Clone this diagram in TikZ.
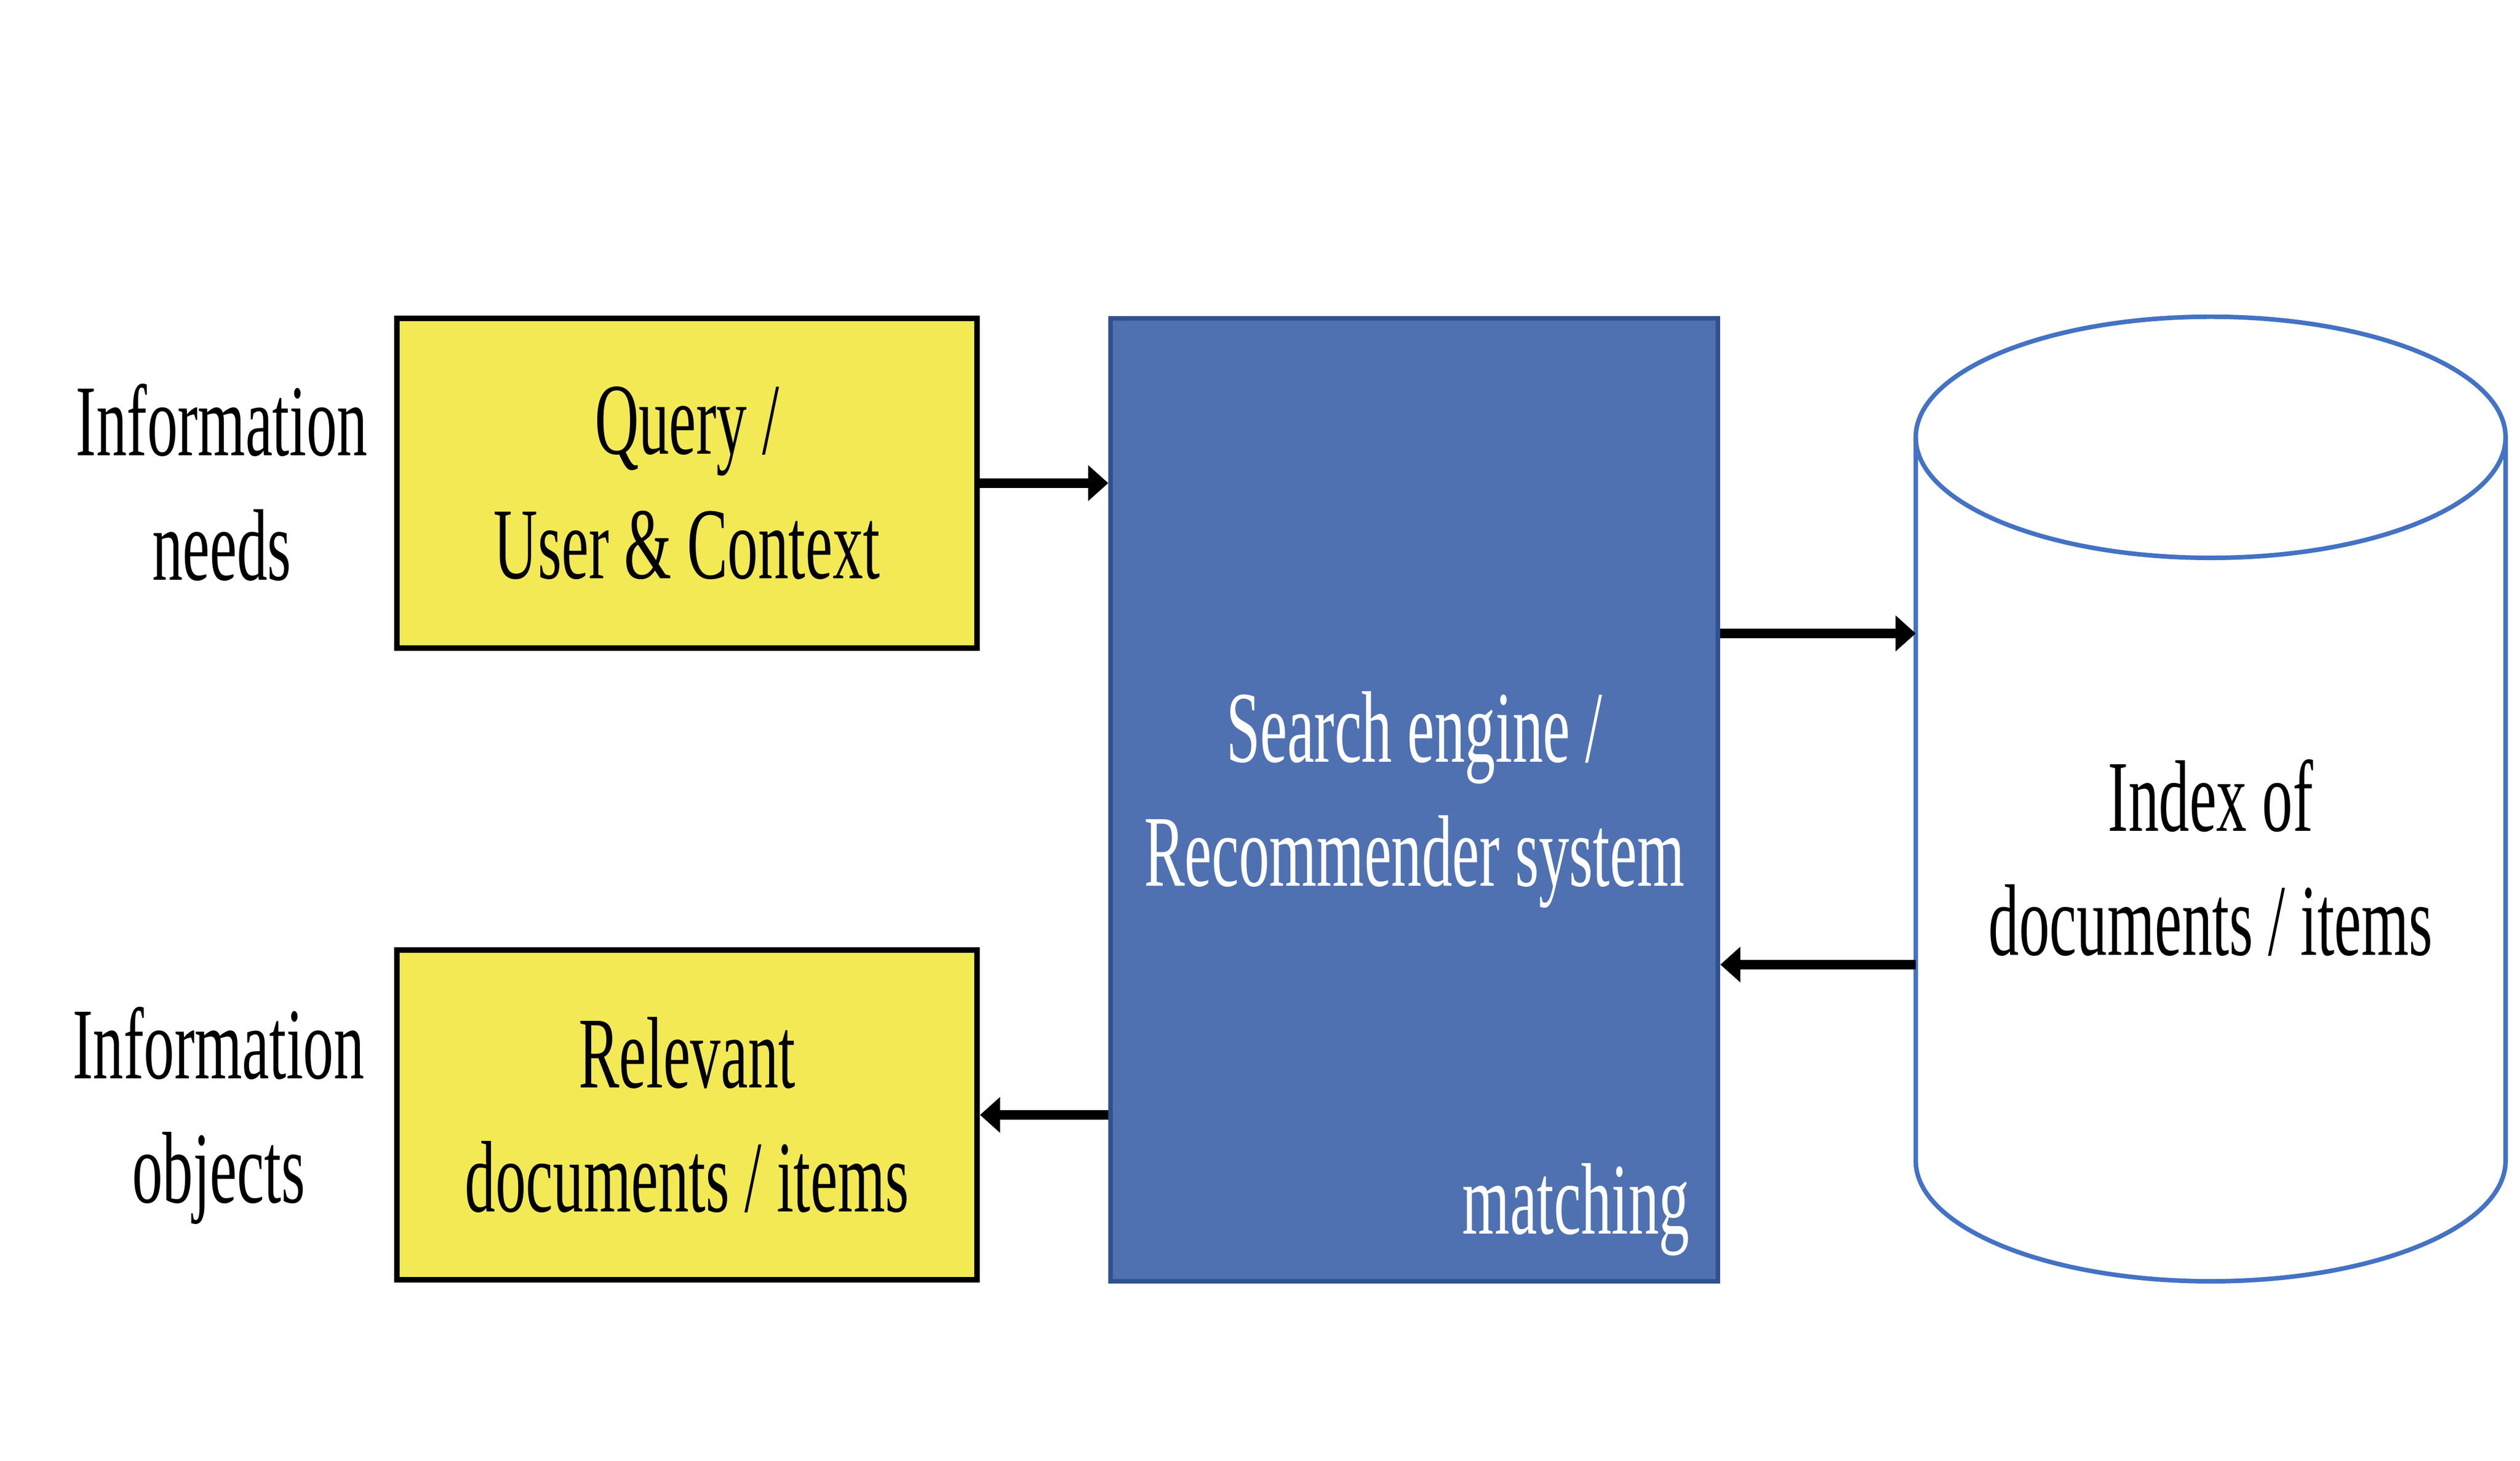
\documentclass[tikz,border=0pt]{standalone}
\usepackage{fontspec}
\setmainfont{Liberation Serif}[FakeStretch=0.6]
\usepackage{tikz}
\usetikzlibrary{arrows.meta}

\definecolor{boxyellow}{RGB}{242,233,85}
\definecolor{engineblue}{RGB}{79,113,178}
\definecolor{engineline}{RGB}{47,82,143}
\definecolor{dbline}{RGB}{68,114,196}

\begin{document}
\begin{tikzpicture}[line width=0.8pt,
    every node/.style={font=\fontsize{18}{22}\selectfont, align=center},
    ybox/.style={draw=black, line width=1pt, fill=boxyellow, minimum width=3.61cm, minimum height=2.05cm},
    engbox/.style={draw=engineline, fill=engineblue, text=white, minimum width=3.78cm, minimum height=5.99cm},
    arr/.style={line width=1.7pt, -{Triangle[length=1.25mm, width=2.15mm]}}]

\useasboundingbox (0, 0) rectangle (15.68, -9.086);

% draw side labels
\node (needs) at (1.38, -3.0) {Information\\needs};
\node (objects) at (1.36, -6.94) {Information\\objects};

% draw yellow boxes
\node[ybox] (query) at (4.275, -3.005) {Query /\\User \& Context};
\node[ybox] (relevant) at (4.275, -6.935) {Relevant\\documents / items};

% draw search engine
\node[engbox] (engine) at (8.8, -4.975) {Search engine /\\Recommender system};
\node[anchor=base east, text=white] (matching) at ([xshift=-0.06cm, yshift=0.31cm]engine.south east) {matching};

% draw cylinder
\draw[draw=dbline, fill=white] (11.92, -2.72) -- (11.92, -7.22)
    arc[start angle=180, end angle=360, x radius=1.835, y radius=0.75] -- (15.59, -2.72);
\draw[draw=dbline] (13.755, -2.72) ellipse [x radius=1.835, y radius=0.75];
\node (index) at (13.755, -5.335) {Index of\\documents / items};

% draw arrows
\coordinate (dbin) at (11.92, -3.94);
\coordinate (dbout) at (11.92, -6.0);
\draw[arr] (query.east) -- (query.east -| engine.west);
\draw[arr] (engine.east |- dbin) -- (dbin);
\draw[arr] (dbout) -- (engine.east |- dbout);
\draw[arr] (engine.west |- relevant.east) -- (relevant.east);

\end{tikzpicture}
\end{document}
